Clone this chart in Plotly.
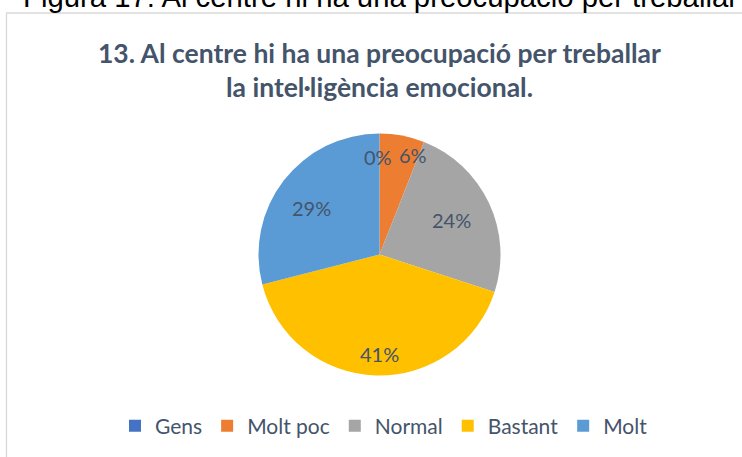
import math
import plotly.graph_objects as go

categories = ["Gens", "Molt poc", "Normal", "Bastant", "Molt"]
values = [0, 6, 24, 41, 29]
colors = ["#4472C4", "#ED7D31", "#A5A5A5", "#FFC000", "#5B9BD5"]
title_text = "13. Al centre hi ha una preocupació per treballar<br>la intel·ligència emocional."
header_text = "Figura 17: Al centre hi ha una preocupació per treballar"

# label placement style (fraction of radius, angular nudge in degrees)
label_radius = [0.81, 0.87, 0.66, 0.82, 0.68]
label_nudge = [-1, 8, 0, -2, -3]

W, H = 742, 457
cx, cy, r = 379.5, 254.5, 121

total = sum(values)

fig = go.Figure(go.Pie(
    labels=categories,
    values=values,
    sort=False,
    direction="clockwise",
    rotation=0,
    marker=dict(colors=colors, line=dict(width=0)),
    textinfo="none",
    hoverinfo="skip",
    domain=dict(x=[(cx - r) / W, (cx + r) / W], y=[1 - (cy + r) / H, 1 - (cy - r) / H]),
    showlegend=True,
))

# data labels positioned at each slice's mid-angle
label_annotations = []
cum = 0
for v, f, nd in zip(values, label_radius, label_nudge):
    theta = math.radians((cum + v / 2) / total * 360 + nd)
    cum += v
    lx = cx + f * r * math.sin(theta)
    ly = cy - f * r * math.cos(theta)
    label_annotations.append(dict(
        text=f"{round(v / total * 100)}%", xref="paper", yref="paper",
        x=lx / W, y=1 - ly / H, xanchor="center", yanchor="middle",
        showarrow=False,
        font=dict(family="Lato", size=20, color="#44546A")))

fig.update_layout(
    width=W, height=H,
    margin=dict(l=0, r=0, t=0, b=0),
    paper_bgcolor="white",
    plot_bgcolor="white",
    legend=dict(
        orientation="h",
        x=384 / W, xanchor="center",
        y=1 - 426 / H, yanchor="middle",
        font=dict(family="Lato", size=21, color="#44546A"),
        itemwidth=30,
        tracegroupgap=0,
    ),
    shapes=[dict(
        type="rect", xref="paper", yref="paper",
        x0=6.5 / W, x1=1.01, y0=-0.02, y1=1 - 13 / H,
        line=dict(color="#D9D9D9", width=1.3), fillcolor="rgba(0,0,0,0)",
        layer="below",
    )],
    annotations=[
        dict(text=title_text, xref="paper", yref="paper",
             x=379 / W, y=1 - 70 / H, xanchor="center", yanchor="middle",
             showarrow=False,
             font=dict(family="Lato", size=26.5, color="#44546A", weight="bold")),
        dict(text=header_text, xref="paper", yref="paper",
             x=380 / W, y=1 - 15 / H, xanchor="center", yanchor="bottom",
             showarrow=False,
             font=dict(family="Liberation Sans", size=29.3, color="#000000")),
    ] + label_annotations,
)

fig.write_html("out.html", config={"displayModeBar": False},
               post_script="document.body.style.margin='0';document.body.style.overflow='hidden';")
